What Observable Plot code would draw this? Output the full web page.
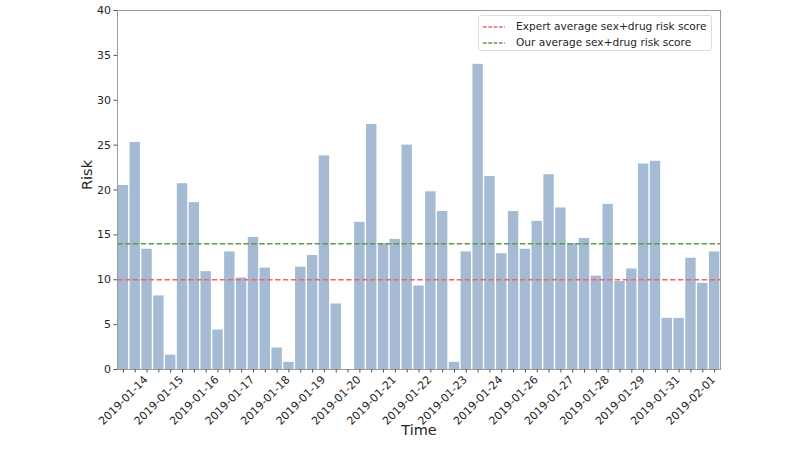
<!DOCTYPE html>
<html><head><meta charset="utf-8">
<script src="https://cdn.jsdelivr.net/npm/d3@7"></script>
<script src="https://cdn.jsdelivr.net/npm/@observablehq/plot@0.6"></script>
<style>
body{margin:0;background:#fff;font-family:"DejaVu Sans",sans-serif;}
#wrap{position:relative;width:800px;height:449px;}
.legend{position:absolute;left:478px;top:15px;width:234px;height:36px;border:1px solid #dcdcdc;border-radius:3px;background:rgba(255,255,255,0.85);font-size:10.6px;color:#262626;box-sizing:border-box;}
.legend .row{position:absolute;left:4px;height:16px;line-height:16px;white-space:nowrap;}
.legend svg{vertical-align:middle;margin-right:11px;}
</style></head><body><div id="wrap"></div>
<script>
const risk = [20.5, 25.3, 13.4, 8.2, 1.6, 20.7, 18.6, 10.9, 4.4, 13.1,
  10.2, 14.7, 11.3, 2.4, 0.8, 11.4, 12.7, 23.8, 7.3, 0,
  16.4, 27.3, 14.0, 14.5, 25.0, 9.3, 19.8, 17.6, 0.8, 13.1,
  34.0, 21.5, 12.9, 17.6, 13.4, 16.5, 21.7, 18.0, 14.0, 14.6,
  10.4, 18.4, 9.8, 11.2, 22.9, 23.2, 5.7, 5.7, 12.4, 9.6, 13.1];
const tickLabels = ["2019-01-14","2019-01-15","2019-01-16","2019-01-17","2019-01-18",
  "2019-01-19","2019-01-20","2019-01-21","2019-01-22","2019-01-23","2019-01-24",
  "2019-01-26","2019-01-27","2019-01-28","2019-01-29","2019-01-31","2019-02-01"];
const labelStep = 3;
const yTicks = [0, 5, 10, 15, 20, 25, 30, 35, 40];
const averages = [10, 14];
const averageNames = ["Expert average sex+drug risk score", "Our average sex+drug risk score"];
const averageColors = ["#e8696a", "#5f9a45"];

const bars = risk.map((v, i) => ({i, v}));
const labelData = tickLabels.map((t, k) => ({i: k * labelStep, t}));
const avgData = averages.map((v, k) => ({v, c: averageColors[k]}));

const chart = Plot.plot({
  width: 800, height: 449,
  marginLeft: 117, marginRight: 80, marginTop: 10, marginBottom: 80,
  style: {fontFamily: "DejaVu Sans, sans-serif", background: "#fff"},
  x: {type: "band", domain: d3.range(risk.length), paddingInner: 0.12, paddingOuter: 0.06},
  y: {domain: [0, 40]},
  marks: [
    Plot.barY(bars, {x: "i", y: "v", fill: "#a4bbd3"}),
    Plot.ruleY(avgData, {y: "v", stroke: "c", strokeWidth: 1.5, strokeDasharray: "5.5,2.4"}),
    Plot.frame({stroke: "#9a9a9a", strokeWidth: 1}),
    Plot.axisX({ticks: d3.range(risk.length), tickFormat: () => "", tickSize: 3.5, stroke: "#555", label: null}),
    Plot.text(labelData, {x: "i", text: "t", frameAnchor: "bottom", dy: 31, rotate: -45, textAnchor: "middle", lineAnchor: "middle", fontSize: 11, fill: "#262626"}),
    Plot.axisY({ticks: yTicks, tickSize: 3.5, tickPadding: 3, fontSize: 11, stroke: "#555", color: "#262626", label: null}),
    Plot.text(["Risk"], {frameAnchor: "left", dx: -30, rotate: -90, fontSize: 14.5, fill: "#262626"}),
    Plot.text(["Time"], {frameAnchor: "bottom", dy: 65, fontSize: 14.5, fill: "#262626"})
  ]
});
const wrap = document.getElementById("wrap");
wrap.appendChild(chart);

const legend = document.createElement("div");
legend.className = "legend";
averageNames.forEach((name, k) => {
  const row = document.createElement("div");
  row.className = "row";
  row.style.top = (2 + k * 16) + "px";
  row.innerHTML = `<svg width="22" height="6"><line x1="0" x2="22" y1="3" y2="3" stroke="${averageColors[k]}" stroke-width="1.5" stroke-dasharray="3.7,1.6"/></svg>${name}`;
  legend.appendChild(row);
});
wrap.appendChild(legend);
</script></body></html>
